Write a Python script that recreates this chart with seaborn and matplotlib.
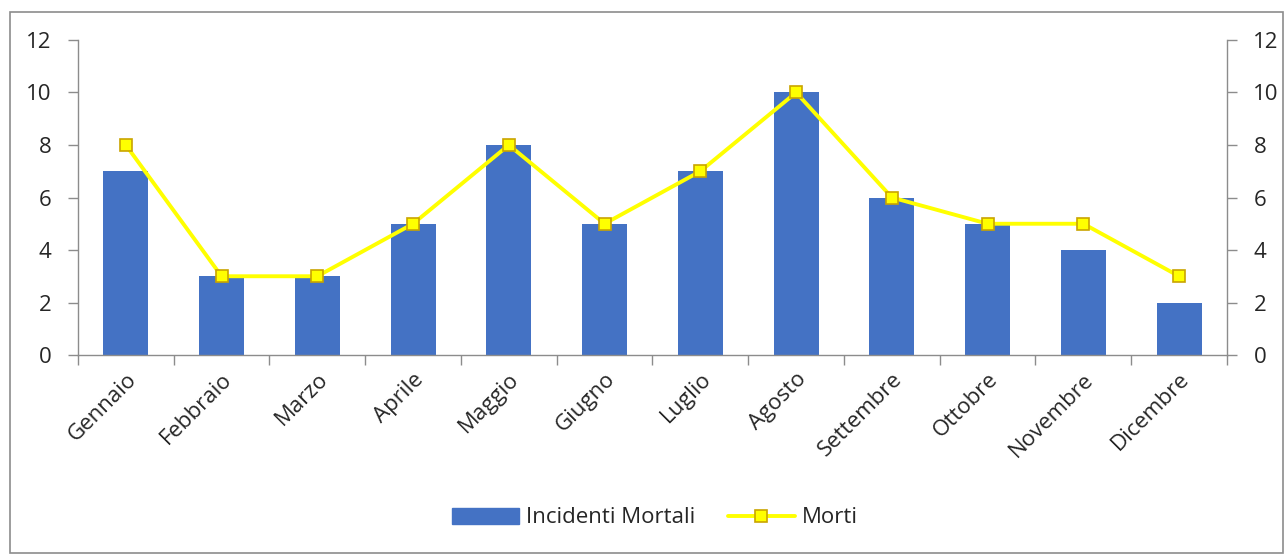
import matplotlib
matplotlib.use("Agg")
import matplotlib.pyplot as plt
import seaborn as sns
import pandas as pd
import numpy as np
from matplotlib.patches import Rectangle
from matplotlib.lines import Line2D

months = ["Gennaio", "Febbraio", "Marzo", "Aprile", "Maggio", "Giugno",
          "Luglio", "Agosto", "Settembre", "Ottobre", "Novembre", "Dicembre"]
incidenti = [7, 3, 3, 5, 8, 5, 7, 10, 6, 5, 4, 2]
morti = [8, 3, 3, 5, 8, 5, 7, 10, 6, 5, 5, 3]

sns.set_theme(style="white")
plt.rcParams['font.family'] = ['Open Sans', 'DejaVu Sans']

df = pd.DataFrame({"mese": months, "Incidenti Mortali": incidenti, "Morti": morti})

fig = plt.figure(figsize=(12.84, 5.54), dpi=100)
ax = fig.add_axes([0.0607, 0.3592, 0.8949, 0.5686])

sns.barplot(data=df, x="mese", y="Incidenti Mortali", color="#4472C4",
            saturation=1, width=0.47, ax=ax, linewidth=0, edgecolor="none")
ax.set_ylim(0, 12)
ax.set_xlim(-0.5, 11.5)
ax.set_yticks(range(0, 13, 2))
ax.set_xlabel("")
ax.set_ylabel("")

ax2 = ax.twinx()
ax2.plot(np.arange(len(months)), df["Morti"], color="#FFFF00", lw=2.8,
         marker="s", markersize=9, markerfacecolor="#FFFF00",
         markeredgecolor="#C9A400", markeredgewidth=1.2, zorder=3)
ax2.set_ylim(0, 12)
ax2.set_yticks(range(0, 13, 2))
ax2.set_xlim(-0.5, 11.5)

spine_c = "#8C8C8C"
for a in (ax, ax2):
    for s in a.spines.values():
        s.set_visible(False)
ax.spines["left"].set_visible(True)
ax.spines["bottom"].set_visible(True)
ax2.spines["right"].set_visible(True)
for s in (ax.spines["left"], ax.spines["bottom"], ax2.spines["right"]):
    s.set_color(spine_c)
    s.set_linewidth(1.0)

fs = 16
ax.tick_params(axis="y", which="major", left=True, length=7, width=1,
               color=spine_c, labelsize=fs, labelcolor="#262626", pad=12)
ax2.tick_params(axis="y", which="major", right=True, length=7, width=1,
                color=spine_c, labelsize=fs, labelcolor="#262626", pad=12)
ax.set_xticks(np.arange(len(months)))
ax.set_xticklabels(months, rotation=45, ha="right", rotation_mode="anchor",
                   fontsize=fs, color="#262626")
ax.set_xticks(np.arange(-0.5, 12, 1), minor=True)
ax.tick_params(axis="x", which="major", bottom=False, length=0, pad=10)
ax.tick_params(axis="x", which="minor", bottom=True, length=7, width=1, color=spine_c)

handles = [Rectangle((0, 0), 1, 1, color="#4472C4"),
           Line2D([0], [0], color="#FFFF00", lw=2.8, marker="s", markersize=9,
                  markerfacecolor="#FFFF00", markeredgecolor="#C9A400",
                  markeredgewidth=1.2)]
fig.legend(handles, ["Incidenti Mortali", "Morti"], loc="center",
           bbox_to_anchor=(0.51, 0.065), ncol=2, frameon=False, fontsize=fs,
           handlelength=3.0, handleheight=0.75, columnspacing=1.5, handletextpad=0.3)

fig.add_artist(Rectangle((10/1284, 0.002), 1 - 10/1284 - 0.001, 1 - 12/554 - 0.002,
                         transform=fig.transFigure, fill=False,
                         edgecolor="#8C8C8C", lw=1.2))

fig.savefig("out.png", dpi=100)
